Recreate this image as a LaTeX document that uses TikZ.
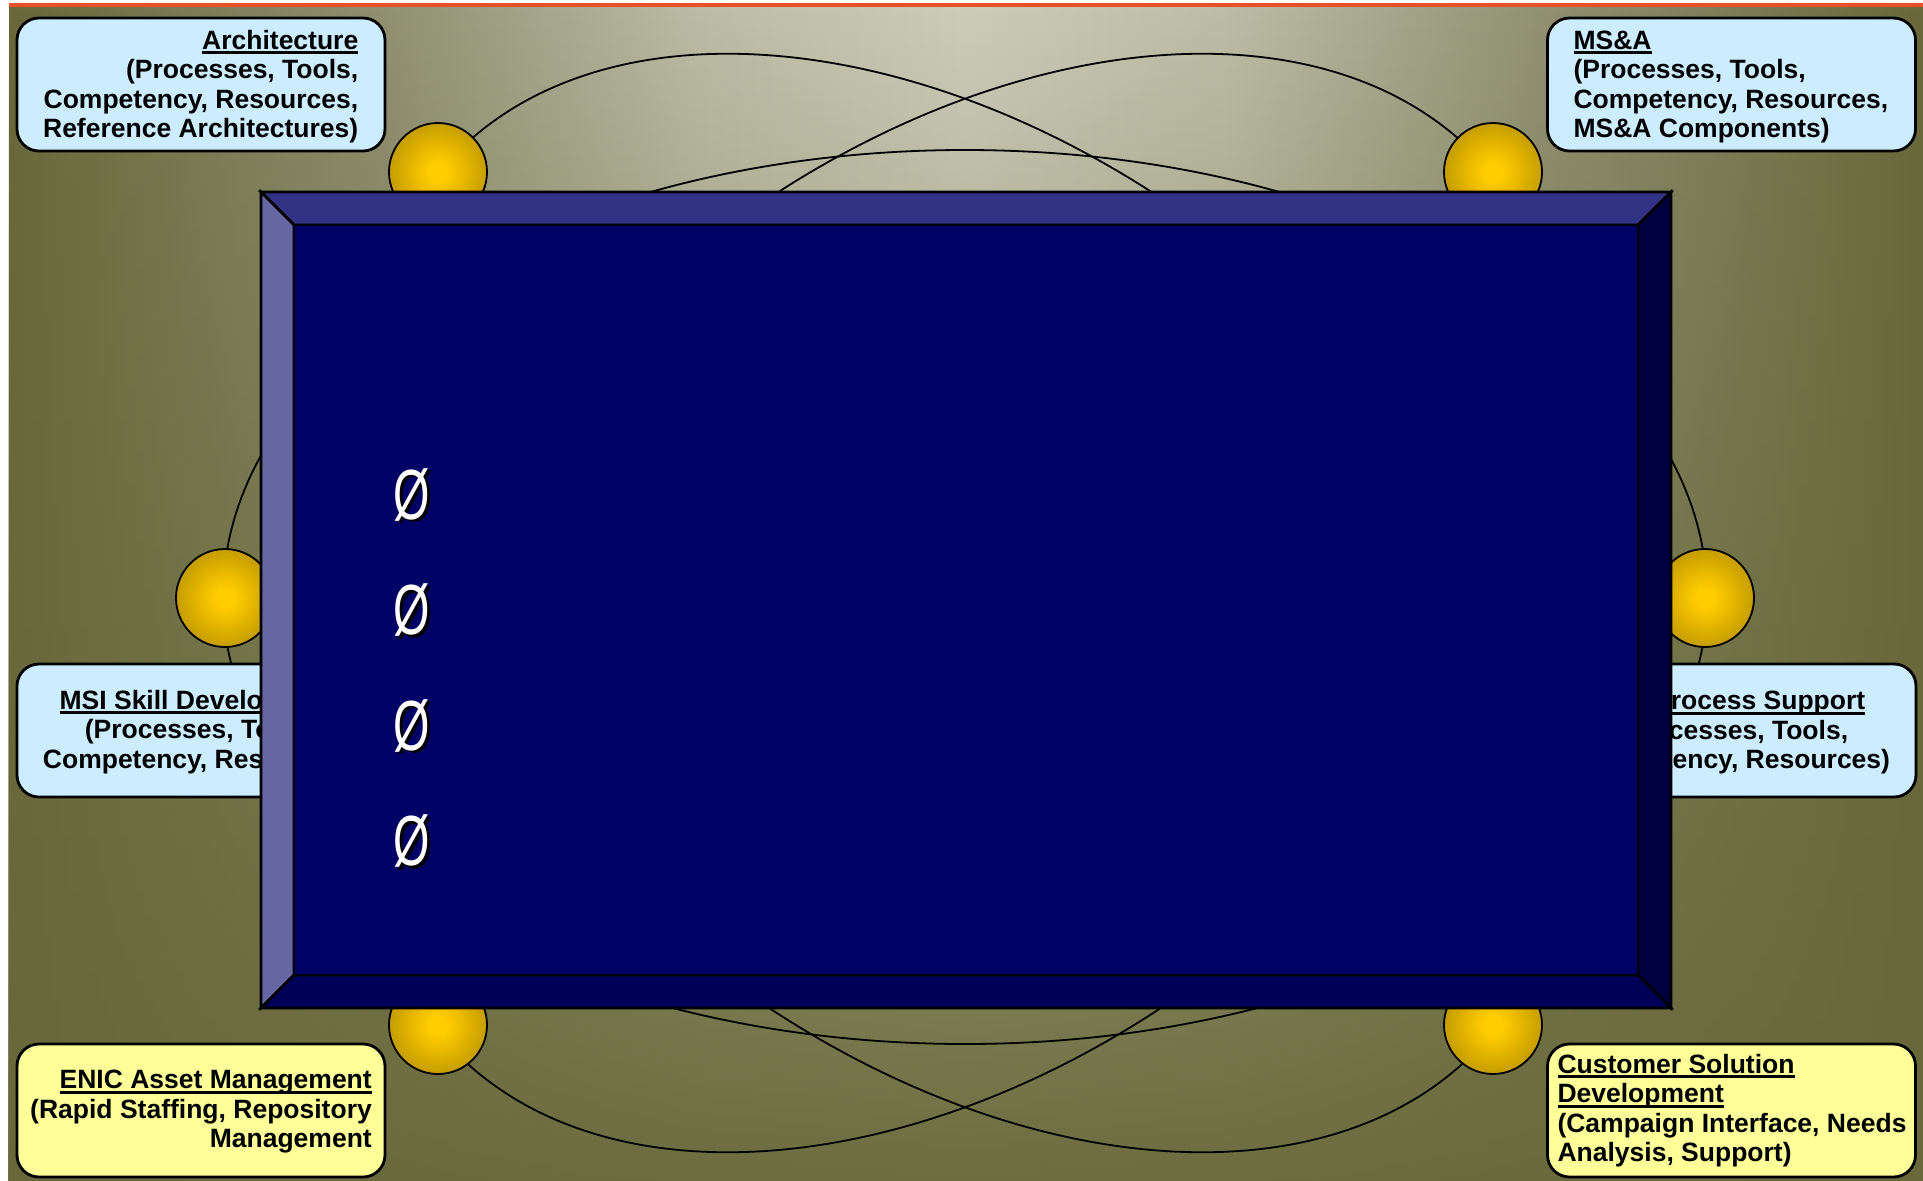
\documentclass[tikz,border=0pt]{standalone}
\usepackage{fontspec}
\setmainfont{Liberation Sans}
\usepackage{graphicx}
\usetikzlibrary{fadings}
\definecolor{olivedk}{RGB}{104,104,58}
\definecolor{olivemd}{RGB}{145,145,115}
\definecolor{olivem2}{RGB}{188,188,166}
\definecolor{olivelt}{RGB}{204,204,186}
\definecolor{lblue}{RGB}{204,236,255}
\definecolor{lyel}{RGB}{255,255,153}
\definecolor{redline}{RGB}{232,80,40}
\definecolor{bevtop}{RGB}{51,51,133}
\definecolor{bevleft}{RGB}{102,102,163}
\definecolor{bevright}{RGB}{0,0,64}
\definecolor{bevbot}{RGB}{0,0,88}
\definecolor{face}{RGB}{0,0,102}
\definecolor{gold1}{RGB}{255,204,0}
\definecolor{gold2}{RGB}{125,98,0}
\pgfdeclareradialshading{goldball}{\pgfpoint{0bp}{0bp}}{color(0bp)=(gold1); color(5bp)=(gold1); color(50bp)=(gold2); color(60bp)=(gold2)}
\pgfdeclarehorizontalshading{bgh}{100bp}{color(0bp)=(olivedk); color(25bp)=(olivedk); color(35bp)=(olivemd); color(43bp)=(olivem2); color(50bp)=(olivelt); color(57bp)=(olivem2); color(65bp)=(olivemd); color(75bp)=(olivedk); color(100bp)=(olivedk)}
\tikzfading[name=fadedown, top color=transparent!100, middle color=transparent!62, bottom color=transparent!5]
\newcommand\myul[1]{\setbox0\hbox{#1}\rlap{\rule[-5pt]{\wd0}{2.6pt}}\box0}
\begin{document}
\begin{tikzpicture}[x=1pt,y=-1pt,
  lbox/.style={draw=black, line width=2.8pt, rounded corners=22pt, minimum width=368pt, minimum height=133pt, inner sep=0pt},
  txt/.style={inner sep=0pt, font=\bfseries\fontsize{26.5}{29.5}\selectfont},
  ball/.style={circle, draw=black, line width=1.8pt, minimum size=98pt, inner sep=0pt, shading=goldball},
  orbit/.style={draw=black, line width=1.8pt},
  bev/.style={draw=black, line width=2.6pt, line join=miter},
  sym/.style={inner sep=0pt, anchor=base, font=\fontsize{71}{71}\selectfont}]

\useasboundingbox (0,0) rectangle (1923,1181);
\fill[white] (0,0) rectangle (1923,1181);
\fill[redline] (9,3) rectangle (1923,6.5);
\shade[shading=bgh] (9,7) rectangle (1923,1181);
\fill[olivedk, path fading=fadedown] (9,7) rectangle (1923,1181);

% orbits
\draw[orbit] (965,597) ellipse [x radius=742pt, y radius=447pt];
\draw[orbit, rotate around={-39:(965,603)}] (965,603) ellipse [x radius=680pt, y radius=443pt];
\draw[orbit, rotate around={39:(965,603)}] (965,603) ellipse [x radius=680pt, y radius=443pt];

% spheres
\node[ball] (sTL) at (438,172) {};
\node[ball] (sTR) at (1493,172) {};
\node[ball] (sML) at (225,598) {};
\node[ball] (sMR) at (1705,598) {};
\node[ball] (sBL) at (438,1025) {};
\node[ball] (sBR) at (1493,1025) {};

% boxes
\node[lbox, fill=lblue] (boxA) at (201,84.5) {};
\node[lbox, fill=lblue] (boxM) at (1731.5,84.5) {};
\node[lbox, fill=lblue] (boxS) at (201,730.5) {};
\node[lbox, fill=lblue] (boxP) at (1732,730.5) {};
\node[lbox, fill=lyel] (boxE) at (201,1110.5) {};
\node[lbox, fill=lyel] (boxC) at (1731.5,1110.5) {};

% texts (anchor base = baseline of last line)
\node[txt, anchor=base east, align=right] (tA) at (358.5,137.5) {\myul{Architecture}\\(Processes, Tools,\\Competency, Resources,\\Reference Architectures)};
\node[txt, anchor=base west, align=left] (tM) at (1573.3,137.5) {\myul{MS\&A}\\(Processes, Tools,\\Competency, Resources,\\MS\&A Components)};
\node[txt, anchor=base, align=center] (tS) at (201,768) {\myul{MSI Skill Development}\\(Processes, Tools,\\Competency, Resources)};
\node[txt, anchor=base, align=center] (tP) at (1732,768.5) {\myul{MSI Process Support}\\(Processes, Tools,\\Competency, Resources)};
\node[txt, anchor=base east, align=right] (tE) at (372,1147.5) {\myul{ENIC Asset Management}\\(Rapid Staffing, Repository\\Management};
\node[txt, anchor=base west, align=left] (tC) at (1557.3,1161.5) {\myul{Customer Solution}\\\myul{Development}\\(Campaign Interface, Needs\\Analysis, Support)};

% panel
\coordinate (o1) at (261,192); \coordinate (o2) at (1671,192);
\coordinate (o3) at (1671,1008); \coordinate (o4) at (261,1008);
\coordinate (i1) at (294,225); \coordinate (i2) at (1638,225);
\coordinate (i3) at (1638,975); \coordinate (i4) at (294,975);
\filldraw[bev, fill=bevtop] (o1)--(o2)--(i2)--(i1)--cycle;
\filldraw[bev, fill=bevleft] (o1)--(i1)--(i4)--(o4)--cycle;
\filldraw[bev, fill=bevright] (o2)--(o3)--(i3)--(i2)--cycle;
\filldraw[bev, fill=bevbot] (o4)--(i4)--(i3)--(o3)--cycle;
\filldraw[bev, fill=face] (i1)--(i2)--(i3)--(i4)--cycle;

% bullets
\foreach \yy/\nm in {519/b1,634.5/b2,750/b3,865.5/b4}{
  \node[sym, text=black] (\nm s) at (414.5,\yy+2.5) {\scalebox{0.66}[1]{Ø}};
  \node[sym, text=white] (\nm) at (412,\yy) {\scalebox{0.66}[1]{Ø}};
}
\end{tikzpicture}
\end{document}
